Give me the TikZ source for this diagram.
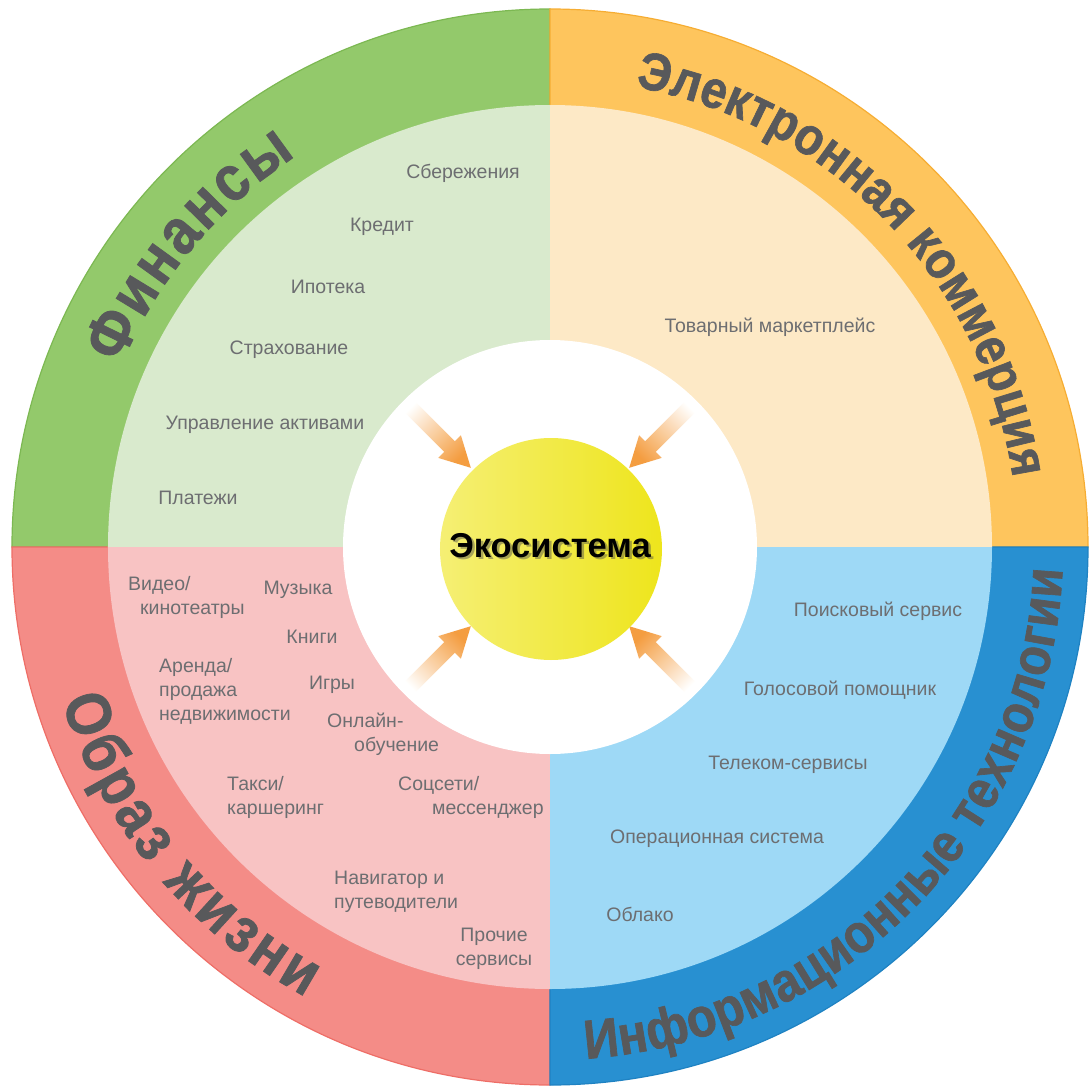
\documentclass[tikz,border=0pt]{standalone}
\usepackage{fontspec}
\setmainfont{Liberation Sans}
\newfontfamily\ringfont{Liberation Sans}[FakeStretch=0.88, BoldFeatures={FakeBold=1.2}]
\usetikzlibrary{decorations.text}

\definecolor{fin}{HTML}{93C96B}
\definecolor{edgefin}{HTML}{7CB852}
\definecolor{lightfin}{HTML}{D9EACD}
\definecolor{com}{HTML}{FEC55D}
\definecolor{edgecom}{HTML}{F6AD33}
\definecolor{lightcom}{HTML}{FDE9C6}
\definecolor{life}{HTML}{F48C87}
\definecolor{edgelife}{HTML}{EE6E67}
\definecolor{lightlife}{HTML}{F8C3C3}
\definecolor{tech}{HTML}{2890D1}
\definecolor{edgetech}{HTML}{1F82C2}
\definecolor{lighttech}{HTML}{9ED9F6}
\definecolor{coreleft}{HTML}{F5EF74}
\definecolor{coreright}{HTML}{EEE51C}
\definecolor{arrowor}{HTML}{F49D40}
\definecolor{svctext}{HTML}{6D6E71}
\definecolor{bigtxt}{HTML}{58595B}

\tikzstyle{svc}=[text=svctext, font=\fontsize{19.5}{24}\selectfont, inner sep=0pt, align=left]
\tikzstyle{svcw}=[svc, anchor=west]
\tikzstyle{core}=[circle, left color=coreleft, right color=coreright, minimum size=222pt, inner sep=0pt]
\tikzstyle{corelabel}=[font=\bfseries\fontsize{34.5}{34.5}\selectfont, inner sep=0pt]
\tikzstyle{ringtext}=[decorate, decoration={text along path, text align=fit to path}]

\begin{document}
\begin{tikzpicture}[x=1pt, y=1pt]
    \useasboundingbox (-550,-538) rectangle (539,547);

    % quadrants
    \foreach \from/\to/\col in {90/180/fin, 0/90/com, 180/270/life, 270/360/tech} {
        \filldraw[fill=\col, draw=edge\col, line width=1.2pt] (0,0) -- (\from:538) arc[start angle=\from, end angle=\to, radius=538] -- cycle;
    }
    \foreach \from/\to/\col in {90/180/fin, 0/90/com, 180/270/life, 270/360/tech} {
        \fill[light\col] (0,0) -- (\from:442) arc[start angle=\from, end angle=\to, radius=442] -- cycle;
    }
    \fill[white] (0,0) circle[radius=207];

    % arrows
    \foreach \a/\s in {45/-45, 135/45, 225/135, 315/225} {
        \coordinate (tail\a) at (\a:205);
        \begin{scope}[rotate=\a]
            \shade[top color=white, bottom color=arrowor, shading angle=\s] (112,0) -- (142,16) -- (142,7.5) -- (205,7.5) -- (205,-7.5) -- (142,-7.5) -- (142,-16) -- cycle;
        \end{scope}
    }

    % centre
    \node[core] (eco) at (1,-2) {};
    \node[corelabel, text=black!70, opacity=0.45] (ecoshadow) at (2.5,-0.5) {Экосистема};
    \node[corelabel] (ecolabel) at (0,1) {Экосистема};

    % ring titles
    \path[ringtext, decoration={text={|\ringfont\bfseries\fontsize{64}{64}\selectfont\color{bigtxt}|Финансы}}] (157:466) arc[start angle=157, end angle=123, radius=466];
    \path[ringtext, decoration={text={|\ringfont\bfseries\fontsize{53}{53}\selectfont\color{bigtxt}|Электронная коммерция}}] (79.5:468) arc[start angle=79.5, end angle=8.5, radius=468];
    \path[ringtext, decoration={text={|\ringfont\bfseries\fontsize{63}{63}\selectfont\color{bigtxt}|Образ жизни}}] (197.5:512) arc[start angle=197.5, end angle=241.5, radius=512];
    \path[ringtext, decoration={text={|\ringfont\bfseries\fontsize{55}{55}\selectfont\color{bigtxt}|Информационные технологии}}] (274:513) arc[start angle=274, end angle=357.5, radius=513];

    % finance
    \node[svc] (sav) at (-87,374) {Сбережения};
    \node[svc] (cred) at (-168,320) {Кредит};
    \node[svc] (mort) at (-222,260) {Ипотека};
    \node[svc] (ins) at (-261,197) {Страхование};
    \node[svc] (asset) at (-285,122) {Управление активами};
    \node[svc] (pay) at (-352,49) {Платежи};

    % commerce
    \node[svc] (market) at (220,220) {Товарный маркетплейс};

    % lifestyle
    \node[svcw] (video) at (-422,-50) {Видео/\\\hspace*{12pt}кинотеатры};
    \node[svc] (music) at (-252,-43) {Музыка};
    \node[svc] (books) at (-238,-90) {Книги};
    \node[svcw] (estate) at (-391,-144) {Аренда/\\продажа\\недвижимости};
    \node[svc] (games) at (-218,-138) {Игры};
    \node[svcw] (edu) at (-223,-187.5) {Онлайн-\\\hspace*{27pt}обучение};
    \node[svcw] (taxi) at (-323,-250) {Такси/\\каршеринг};
    \node[svcw] (social) at (-152,-250) {Соцсети/\\\hspace*{34pt}мессенджер};
    \node[svcw] (nav) at (-216,-344.5) {Навигатор и\\путеводители};
    \node[svc, align=center] (other) at (-56,-401.5) {Прочие\\сервисы};

    % tech
    \node[svc] (search) at (328,-64) {Поисковый сервис};
    \node[svc] (voice) at (290,-143) {Голосовой помощник};
    \node[svc] (telecom) at (238,-218) {Телеком-сервисы};
    \node[svc] (os) at (167,-292) {Операционная система};
    \node[svc] (cloud) at (90,-367) {Облако};
\end{tikzpicture}
\end{document}
